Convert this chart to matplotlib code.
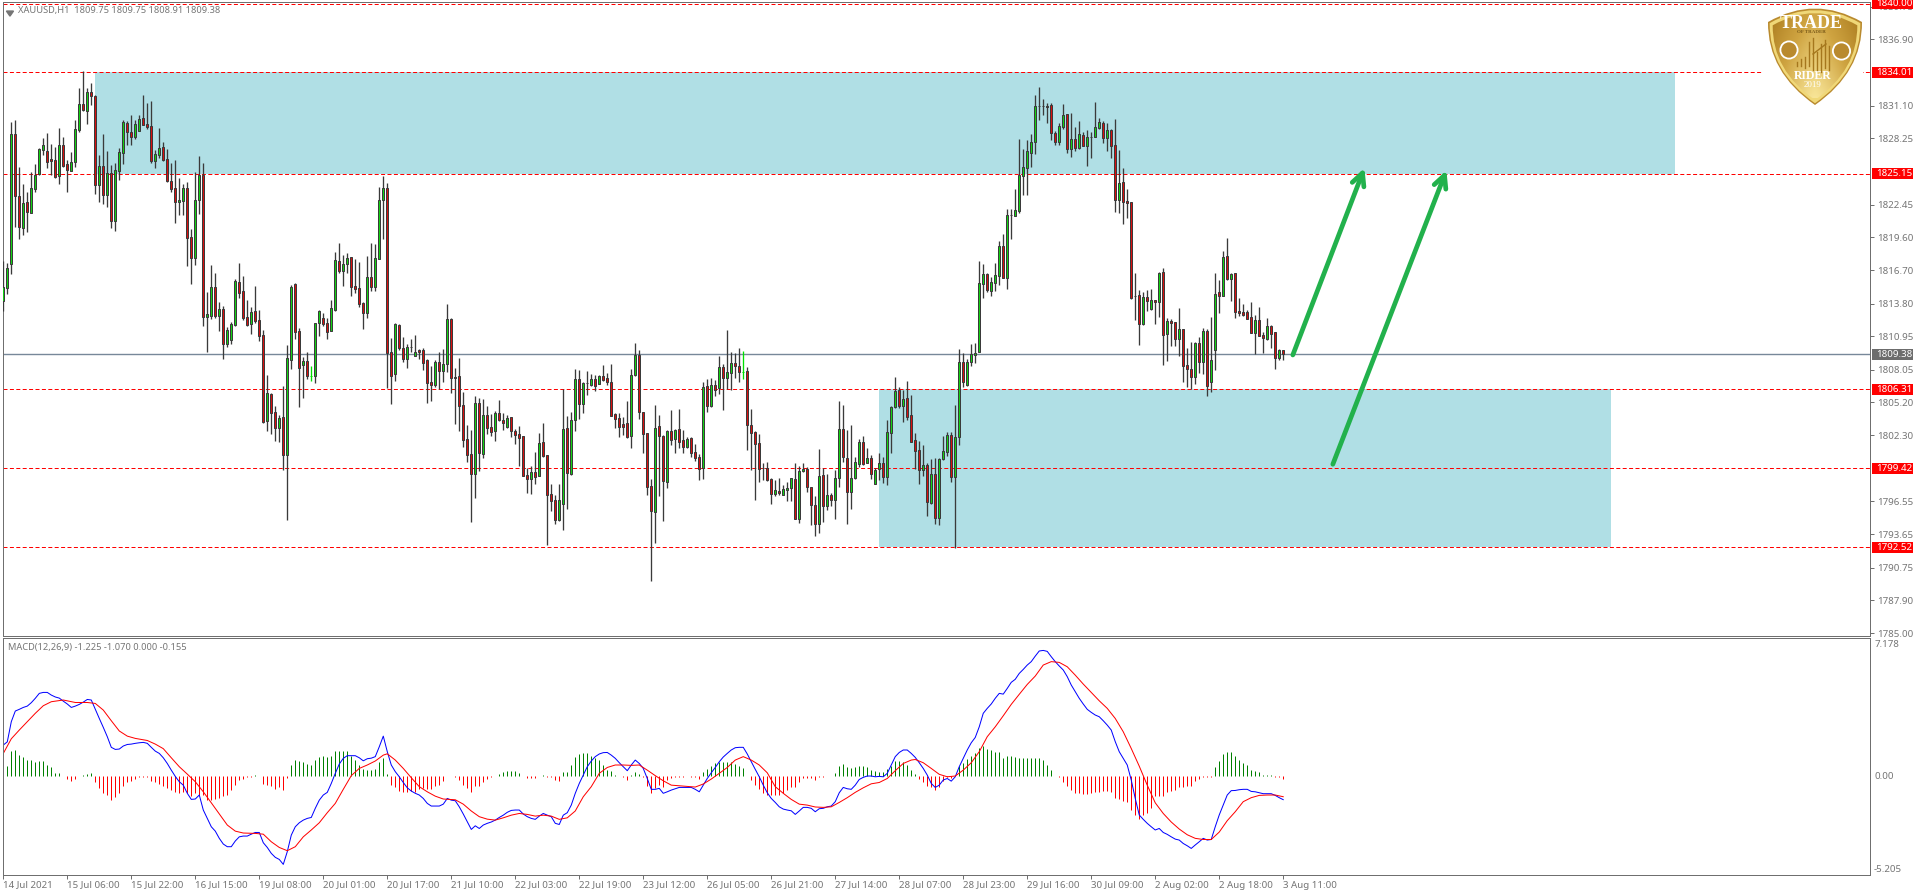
import numpy as np
import matplotlib
matplotlib.use('Agg')
import matplotlib.pyplot as plt
from matplotlib.colors import LinearSegmentedColormap
from matplotlib.patches import Circle, PathPatch, Rectangle
from matplotlib.path import Path
from matplotlib.transforms import blended_transform_factory

plt.rcParams['font.family'] = ['Noto Sans', 'DejaVu Sans']

# XAUUSD H1 candles
opens = [
    1814.06,1815.14,1817.24,1828.59,1823.17,1820.44,1822.68,1821.75,1823.84,1825.10,
    1827.22,1827.10,1826.43,1826.32,1824.98,1827.63,1826.0,1825.42,1826.20,1829.0,
    1831.21,1830.66,1832.26,1831.91,1824.16,1825.79,1823.29,1825.24,1821.05,1825.39,
    1826.99,1829.55,1828.76,1828.38,1828.91,1830.02,1829.46,1829.29,1826.29,1826.81,
    1827.45,1826.41,1824.48,1823.87,1822.65,1822.80,1823.87,1819.59,1817.82,1822.82,
    1825.01,1812.67,1812.72,1815.23,1812.72,1813.31,1810.31,1810.66,1811.94,1815.66,
    1814.88,1812.61,1812.0,1813.13,1812.35,1811.04,1803.58,1805.88,1804.31,1802.97,
    1803.87,1800.56,1808.91,1815.49,1811.38,1808.42,1808.76,1807.51,1807.51,1812.14,
    1812.52,1812.08,1811.44,1813.25,1817.53,1816.68,1817.27,1817.85,1815.32,1815.14,
    1813.83,1813.02,1816.10,1815.23,1817.67,1822.82,1823.87,1809.55,1807.63,1811.94,
    1809.90,1809.0,1809.99,1809.26,1809.73,1809.73,1808.85,1806.93,1806.73,1808.68,
    1807.95,1808.50,1812.43,1807.43,1807.45,1804.92,1801.95,1800.64,1798.95,1805.10,
    1800.64,1804.05,1803.0,1802.65,1804.22,1803.61,1803.03,1803.87,1802.65,1802.39,
    1802.21,1798.81,1798.52,1799.07,1798.78,1801.69,1800.55,1797.15,1796.62,1794.94,
    1796.33,1802.91,1798.95,1803.61,1807.19,1805.07,1806.84,1806.73,1807.19,1806.81,
    1807.45,1807.28,1806.93,1804.14,1803.82,1803.26,1803.35,1802.21,1807.54,1809.29,
    1804.31,1802.48,1797.85,1795.63,1803.09,1802.21,1798.26,1802.65,1801.95,1802.83,
    1801.86,1801.31,1802.04,1800.82,1800.38,1799.42,1806.58,1804.86,1806.67,1806.41,
    1808.24,1807.34,1807.72,1808.59,1808.36,1807.86,1807.89,1803.17,1802.59,1801.60,
    1799.42,1799.42,1798.46,1797.21,1797.41,1797.12,1797.53,1797.67,1798.46,1794.96,
    1799.16,1799.36,1797.82,1796.22,1794.59,1798.81,1796.16,1797.06,1796.68,1798.55,
    1802.83,1800.35,1797.38,1798.55,1799.83,1801.69,1799.91,1800.29,1798.05,1799.36,
    1799.86,1798.69,1802.53,1804.80,1806.26,1804.86,1805.53,1804.05,1801.86,1800.99,
    1799.30,1799.68,1796.42,1798.92,1795.11,1800.21,1800.87,1802.30,1798.69,1802.19,
    1808.68,1806.70,1808.74,1809.29,1809.61,1815.55,1816.36,1814.94,1815.61,1816.25,
    1818.81,1816.07,1821.57,1821.49,1821.92,1824.98,1825.68,1826.99,1827.95,1831.09,
    1831.03,1831.09,1831.12,1828.67,1827.95,1829.26,1830.33,1827.34,1828.15,1827.42,
    1828.50,1827.60,1828.33,1828.39,1829.17,1829.55,1828.30,1828.94,1827.63,1822.88,
    1824.40,1822.74,1822.65,1814.47,1814.53,1812.0,1814.35,1813.33,1814.09,1813.92,
    1816.54,1811.18,1812.26,1812.17,1810.69,1811.56,1808.42,1808.07,1807.42,1810.34,
    1808.74,1811.38,1806.99,1809.78,1814.79,1814.50,1817.93,1815.93,1816.45,1813.13,
    1813.04,1813.04,1812.61,1811.27,1812.35,1811.06,1810.69,1811.82,1811.30,1809.03,
    1809.75]
closes = [
    1815.23,1816.89,1828.59,1823.23,1820.53,1822.56,1821.81,1823.87,1825.04,1827.28,
    1827.63,1826.20,1826.26,1824.89,1827.63,1825.85,1825.47,1826.14,1829.03,1831.21,
    1830.71,1832.26,1831.94,1824.16,1825.79,1823.29,1825.24,1821.05,1825.44,1827.02,
    1829.64,1828.82,1828.38,1829.46,1829.90,1829.43,1829.23,1826.29,1826.84,1827.37,
    1826.38,1824.51,1823.84,1822.65,1822.82,1823.87,1819.56,1817.82,1822.82,1825.01,
    1812.67,1812.87,1815.23,1812.72,1813.31,1810.31,1811.47,1812.0,1815.78,1814.76,
    1812.58,1811.94,1813.04,1812.32,1811.01,1803.47,1805.97,1804.28,1802.97,1803.79,
    1800.61,1809.03,1815.23,1811.33,1808.21,1808.76,1807.48,1807.51,1812.08,1813.13,
    1812.05,1811.36,1813.39,1817.59,1816.68,1817.24,1817.76,1815.29,1815.11,1813.77,
    1813.02,1816.10,1815.23,1817.76,1822.82,1823.87,1809.52,1807.51,1812.0,1809.96,
    1809.0,1809.99,1809.99,1809.55,1809.58,1808.65,1806.90,1806.73,1808.68,1807.95,
    1808.50,1812.43,1807.34,1807.34,1804.89,1801.92,1800.61,1798.95,1805.10,1800.73,
    1804.11,1802.97,1802.62,1804.22,1803.61,1803.41,1803.79,1802.71,1802.30,1802.10,
    1798.78,1798.52,1799.07,1798.69,1801.66,1800.50,1797.12,1796.54,1794.94,1796.62,
    1802.83,1799.04,1803.61,1807.19,1805.07,1806.84,1806.84,1807.19,1806.64,1807.45,
    1807.16,1806.99,1804.02,1803.76,1803.0,1803.03,1802.18,1807.54,1809.29,1804.37,
    1802.45,1797.82,1795.72,1802.91,1802.21,1798.34,1802.65,1801.89,1802.74,1801.75,
    1801.28,1801.95,1800.79,1800.35,1799.33,1806.55,1804.86,1806.67,1806.29,1808.24,
    1807.34,1807.80,1808.59,1808.39,1807.86,1807.86,1803.23,1802.53,1801.52,1799.39,
    1799.42,1798.43,1797.21,1797.50,1797.27,1797.59,1797.67,1798.55,1795.02,1799.16,
    1799.33,1797.82,1796.25,1794.59,1798.72,1796.16,1797.06,1796.68,1798.55,1802.83,
    1800.44,1797.38,1798.55,1800.0,1801.69,1799.83,1800.29,1798.90,1799.27,1799.91,
    1798.69,1802.56,1804.80,1806.20,1804.86,1805.45,1803.93,1801.75,1800.96,1799.27,
    1799.68,1796.51,1798.92,1795.11,1800.21,1800.90,1802.30,1798.69,1802.13,1808.68,
    1806.99,1808.74,1809.38,1809.46,1815.58,1816.36,1814.99,1815.66,1816.27,1818.81,
    1816.07,1821.51,1821.57,1821.95,1825.01,1825.71,1827.10,1827.89,1831.03,1831.09,
    1831.03,1831.0,1828.73,1827.95,1829.29,1830.25,1827.34,1828.15,1827.42,1828.59,
    1827.60,1828.33,1828.33,1829.20,1829.64,1828.30,1828.94,1827.60,1822.82,1824.31,
    1822.71,1822.62,1814.32,1814.47,1812.0,1814.35,1814.06,1814.09,1813.92,1816.48,
    1811.09,1812.26,1812.08,1810.69,1811.56,1808.33,1808.07,1807.42,1810.34,1808.74,
    1811.38,1806.64,1808.85,1814.62,1814.50,1817.85,1815.93,1816.36,1813.10,1813.02,
    1812.84,1812.49,1811.27,1812.35,1811.01,1810.83,1811.82,1811.18,1809.03,1809.72,
    1809.38]
highs = [
    1817.53,1817.32,1829.64,1829.84,1825.71,1824.25,1823.58,1825.33,1826.0,1827.37,
    1828.24,1828.68,1827.72,1827.51,1829.11,1828.38,1826.35,1827.07,1829.84,1832.61,
    1834.12,1832.61,1833.04,1832.02,1826.78,1828.59,1827.13,1825.91,1826.06,1827.37,
    1829.84,1829.78,1830.28,1829.84,1830.28,1832.02,1831.30,1831.50,1827.22,1829.11,
    1827.95,1827.31,1826.06,1826.35,1824.80,1824.22,1824.40,1820.29,1825.33,1826.70,
    1826.06,1814.79,1817.15,1816.45,1813.97,1813.60,1811.73,1812.23,1815.93,1817.32,
    1816.22,1814.12,1813.54,1815.34,1813.25,1811.50,1807.57,1805.97,1804.86,1804.08,
    1806.61,1810.19,1815.43,1815.58,1811.65,1809.11,1809.58,1808.36,1812.08,1813.25,
    1812.96,1812.52,1814.12,1818.31,1819.07,1818.05,1818.20,1817.91,1817.67,1817.47,
    1813.97,1817.96,1819.07,1819.01,1824.02,1824.95,1824.31,1810.80,1812.08,1812.03,
    1810.89,1810.25,1810.71,1811.06,1809.87,1809.90,1808.94,1808.36,1808.85,1809.61,
    1809.84,1813.77,1812.52,1808.15,1809.03,1806.06,1803.18,1802.74,1805.74,1805.53,
    1805.45,1804.86,1804.14,1804.46,1805.39,1804.28,1804.08,1803.93,1802.83,1803.12,
    1802.24,1799.42,1799.62,1800.85,1802.48,1803.35,1800.58,1798.05,1797.09,1798.05,
    1806.32,1803.99,1804.37,1808.07,1808.01,1806.96,1807.92,1807.66,1807.57,1807.57,
    1808.44,1807.72,1808.53,1804.28,1804.22,1803.93,1805.30,1808.07,1810.34,1809.75,
    1804.37,1802.48,1798.46,1804.95,1804.05,1802.33,1802.77,1804.51,1802.83,1804.60,
    1802.77,1802.18,1802.18,1801.54,1800.67,1806.93,1807.22,1807.28,1807.13,1809.23,
    1808.50,1811.50,1809.61,1809.46,1809.90,1809.67,1808.24,1804.60,1802.71,1802.39,
    1799.86,1799.94,1798.55,1798.40,1798.55,1797.96,1798.26,1798.55,1799.86,1799.62,
    1799.86,1799.56,1797.82,1797.03,1801.08,1799.48,1798.92,1797.29,1799.27,1805.30,
    1804.95,1802.77,1803.20,1800.44,1801.95,1802.24,1801.17,1800.58,1799.42,1800.79,
    1800.44,1803.64,1804.86,1807.37,1806.49,1806.26,1807.05,1805.79,1802.48,1801.81,
    1801.46,1799.91,1800.21,1800.29,1800.32,1802.24,1802.59,1802.62,1804.95,1809.81,
    1809.46,1808.97,1810.25,1810.34,1817.53,1817.26,1816.45,1816.16,1817.32,1819.27,
    1819.88,1822.07,1822.07,1823.81,1828.18,1827.31,1828.09,1828.62,1832.02,1832.69,
    1831.67,1831.35,1831.30,1828.88,1829.55,1831.24,1830.36,1830.42,1829.20,1829.75,
    1828.76,1828.97,1828.82,1831.41,1830.04,1829.75,1829.55,1829.05,1829.90,1827.22,
    1825.68,1823.81,1822.71,1816.45,1814.99,1814.85,1814.99,1815.11,1814.12,1816.59,
    1816.89,1812.52,1812.43,1812.23,1813.42,1811.62,1809.90,1810.48,1810.42,1810.86,
    1811.70,1811.59,1812.64,1816.45,1815.87,1818.40,1819.51,1816.45,1816.51,1814.27,
    1813.77,1813.25,1813.92,1812.81,1813.48,1811.36,1812.52,1811.94,1811.36,1809.81,
    1809.75]
lows = [
    1813.19,1814.65,1816.39,1820.53,1819.48,1819.80,1820.09,1821.69,1823.58,1825.04,
    1826.78,1825.62,1825.04,1824.75,1824.25,1825.76,1823.58,1825.36,1825.76,1828.82,
    1830.66,1829.49,1831.15,1823.38,1822.71,1822.50,1822.27,1820.38,1820.18,1824.60,
    1826.0,1827.66,1827.66,1828.15,1828.91,1829.40,1829.05,1826.06,1825.68,1826.49,
    1826.26,1824.46,1823.58,1820.87,1821.54,1821.54,1817.12,1815.52,1817.18,1821.63,
    1811.85,1809.61,1812.49,1812.58,1811.41,1808.97,1810.05,1810.31,1811.85,1814.27,
    1812.37,1811.85,1811.15,1812.08,1810.54,1803.41,1802.71,1802.42,1801.84,1801.75,
    1799.27,1794.91,1808.10,1810.72,1804.78,1805.59,1807.25,1807.05,1806.90,1810.98,
    1811.88,1810.72,1811.41,1813.19,1816.51,1815.34,1816.45,1814.47,1814.70,1813.51,
    1811.59,1812.58,1814.94,1814.94,1817.67,1819.48,1806.44,1805.04,1807.08,1809.75,
    1808.68,1808.21,1809.61,1809.23,1809.0,1808.01,1805.16,1805.30,1806.55,1806.32,
    1806.99,1807.86,1806.03,1803.29,1802.71,1801.31,1800.0,1794.76,1796.86,1799.22,
    1800.35,1802.42,1802.24,1801.81,1803.58,1802.77,1802.91,1802.18,1801.54,1799.62,
    1798.75,1797.29,1797.18,1798.05,1798.75,1800.38,1792.72,1795.72,1794.56,1794.82,
    1794.03,1795.84,1798.84,1802.68,1803.70,1804.28,1805.82,1806.61,1806.17,1806.78,
    1807.05,1806.70,1804.02,1802.91,1802.18,1802.33,1802.04,1801.17,1807.48,1803.73,
    1800.79,1797.09,1789.61,1792.93,1797.03,1794.85,1797.73,1801.46,1800.79,1801.17,
    1800.79,1801.17,1800.44,1800.06,1798.40,1798.49,1804.37,1804.80,1805.74,1805.88,
    1804.51,1806.32,1806.26,1807.28,1806.99,1807.19,1801.02,1799.27,1796.65,1798.23,
    1798.40,1798.31,1796.30,1797.03,1797.09,1797.09,1796.57,1796.60,1794.99,1794.67,
    1799.13,1797.38,1794.47,1793.54,1793.80,1794.76,1795.78,1796.13,1794.99,1797.82,
    1800.0,1794.59,1795.87,1798.46,1799.56,1799.71,1799.86,1798.46,1798.02,1798.40,
    1798.17,1797.96,1800.79,1804.66,1804.66,1803.49,1803.64,1801.75,1799.33,1798.05,
    1798.78,1795.26,1796.30,1794.56,1794.47,1800.15,1800.50,1798.25,1792.49,1801.46,
    1806.55,1806.61,1808.36,1808.59,1809.61,1814.32,1814.79,1814.47,1814.94,1815.43,
    1816.01,1815.08,1819.45,1821.49,1821.75,1823.29,1823.29,1825.71,1826.87,1829.84,
    1830.28,1829.61,1828.09,1827.66,1827.66,1829.05,1826.93,1826.64,1827.16,1827.28,
    1827.57,1825.82,1826.55,1828.33,1829.03,1827.80,1827.13,1826.55,1821.83,1821.75,
    1820.79,1821.31,1814.21,1812.37,1810.22,1811.94,1813.19,1813.25,1812.03,1812.67,
    1808.47,1808.82,1810.13,1810.10,1809.26,1806.99,1806.55,1806.32,1806.79,1807.72,
    1807.63,1805.77,1806.12,1808.01,1813.0,1814.47,1815.87,1814.03,1812.58,1812.75,
    1812.72,1812.43,1811.21,1809.41,1810.98,1809.52,1810.63,1809.96,1808.12,1808.91,
    1808.91]
# the two bright doji bars
lime_bars = [77, 185]

# MACD panel
macd_line = [
    1.65,1.82,2.88,3.44,3.53,3.63,3.70,3.88,4.11,4.37,
    4.42,4.42,4.28,4.18,4.12,3.96,3.81,3.63,3.70,3.79,
    3.91,4.05,4.02,3.53,3.05,2.58,2.09,1.53,1.42,1.44,
    1.60,1.68,1.70,1.74,1.77,1.79,1.74,1.53,1.33,1.21,
    0.98,0.68,0.33,0.0,-0.28,-0.46,-0.89,-1.21,-1.19,-0.98,
    -1.77,-2.21,-2.65,-2.88,-3.26,-3.56,-3.70,-3.70,-3.40,-3.18,
    -3.14,-3.14,-3.04,-2.95,-2.95,-3.49,-3.74,-4.05,-4.26,-4.37,
    -4.63,-3.96,-3.09,-2.65,-2.44,-2.30,-2.21,-2.16,-1.68,-1.25,
    -0.98,-0.84,-0.37,0.16,0.65,0.95,1.09,1.09,1.09,0.98,
    0.82,0.93,0.96,1.04,1.56,2.12,1.30,0.60,0.25,-0.02,
    -0.32,-0.60,-0.77,-0.89,-0.98,-1.16,-1.42,-1.56,-1.56,-1.56,
    -1.46,-1.16,-1.25,-1.28,-1.60,-1.98,-2.39,-2.79,-2.60,-2.74,
    -2.56,-2.47,-2.40,-2.30,-2.16,-2.04,-1.89,-1.79,-1.77,-1.77,
    -1.98,-2.12,-2.21,-2.26,-2.09,-1.95,-2.04,-2.12,-2.47,-2.53,
    -2.04,-1.91,-1.51,-0.89,-0.37,0.07,0.51,0.81,1.04,1.18,
    1.25,1.26,1.12,0.95,0.72,0.51,0.30,0.60,0.86,0.68,
    0.42,-0.11,-0.68,-0.68,-0.63,-0.89,-0.81,-0.72,-0.65,-0.58,
    -0.58,-0.58,-0.58,-0.68,-0.81,-0.46,-0.11,0.19,0.47,0.77,
    1.02,1.21,1.39,1.51,1.53,1.53,1.18,0.77,0.37,-0.02,
    -0.46,-0.86,-1.16,-1.37,-1.60,-1.72,-1.77,-1.81,-2.00,-1.82,
    -1.63,-1.63,-1.68,-1.86,-1.70,-1.68,-1.60,-1.56,-1.33,-0.86,
    -0.58,-0.65,-0.68,-0.46,-0.16,-0.05,0.02,0.02,-0.02,0.0,
    -0.02,0.16,0.60,1.04,1.26,1.39,1.39,1.21,1.00,0.72,
    0.42,0.07,-0.37,-0.58,-0.46,-0.19,-0.11,-0.25,-0.02,0.51,
    0.95,1.39,1.77,2.05,2.61,3.32,3.58,3.81,4.11,4.37,
    4.33,4.63,4.95,5.11,5.42,5.63,5.86,6.04,6.33,6.60,
    6.63,6.58,6.30,6.04,5.81,5.60,5.25,4.81,4.46,4.11,
    3.81,3.53,3.37,3.23,3.14,2.93,2.70,2.44,1.83,1.30,
    0.95,0.60,-0.19,-1.16,-2.03,-2.26,-2.47,-2.65,-2.82,-2.74,
    -2.95,-3.05,-3.18,-3.30,-3.35,-3.53,-3.65,-3.79,-3.61,-3.44,
    -3.26,-3.35,-3.32,-2.65,-2.03,-1.51,-0.98,-0.75,-0.74,-0.70,
    -0.68,-0.68,-0.79,-0.81,-0.86,-0.91,-0.91,-0.91,-1.00,-1.12,
    -1.225]
signal_bars = [
    0,2,4,6,8,10,12,15,18,21,23,25,27,29,31,33,36,38,40,42,44,46,48,50,52,54,56,58,60,63,
    65,67,69,71,73,75,77,79,81,83,85,87,89,91,93,95,96,98,100,102,104,106,108,110,113,115,
    117,119,121,123,125,127,129,131,133,135,137,139,141,143,145,147,149,151,153,155,157,
    159,161,163,165,167,170,173,175,177,179,181,183,185,187,189,191,193,195,197,199,201,
    203,205,207,209,211,213,215,217,219,221,223,225,227,228,230,232,234,236,238,240,242,
    244,246,248,250,252,254,256,258,260,262,264,266,268,270,272,274,276,278,280,282,284,
    286,288,290,292,294,296,298,300,302,304,306,308,310,312,314,316,318,320]
signal_line = [
    1.21,1.98,2.44,2.88,3.32,3.72,3.93,4.02,3.89,3.89,3.84,3.49,2.93,2.39,2.12,2.00,1.89,
    1.70,1.46,0.98,0.51,0.12,-0.28,-0.81,-1.39,-1.98,-2.56,-2.88,-2.98,-3.00,-3.04,-3.44,
    -3.74,-3.91,-3.70,-3.18,-2.82,-2.44,-1.91,-1.42,-0.68,0.04,0.42,0.60,0.81,1.12,1.19,
    0.86,0.42,-0.07,-0.54,-0.81,-1.04,-1.19,-1.23,-1.46,-1.82,-2.12,-2.25,-2.30,-2.18,
    -2.04,-1.95,-2.00,-2.09,-2.04,-2.09,-2.26,-2.18,-1.82,-1.07,-0.54,0.16,0.47,0.60,0.60,
    0.58,0.60,0.33,0.04,-0.23,-0.46,-0.51,-0.56,-0.40,-0.14,0.16,0.47,0.86,1.04,0.86,0.60,
    0.19,-0.54,-0.89,-1.21,-1.46,-1.51,-1.61,-1.63,-1.60,-1.37,-1.12,-0.84,-0.60,-0.39,
    -0.32,-0.11,0.30,0.68,0.86,0.89,0.72,0.42,0.11,-0.02,0.02,0.33,0.72,1.30,2.09,2.61,
    3.19,3.79,4.32,4.84,5.28,5.86,6.04,6.00,5.77,5.33,4.86,4.42,3.98,3.58,3.05,2.35,1.47,
    0.54,-0.46,-1.39,-1.95,-2.40,-2.77,-3.07,-3.26,-3.32,-3.32,-2.93,-2.33,-1.86,-1.33,
    -1.12,-1.00,-0.98,-0.98,-1.07]
macd_hist = [
    0.47,0.56,1.32,1.40,1.14,1.0,0.88,0.84,0.77,0.79,
    0.82,0.61,0.47,0.18,0.19,0,-0.12,-0.23,-0.12,0,
    0.05,0.14,0.16,-0.32,-0.61,-0.88,-1.0,-1.23,-1.1,-0.88,
    -0.53,-0.32,-0.26,-0.12,-0.05,-0.02,-0.03,-0.26,-0.32,-0.39,
    -0.49,-0.61,-0.7,-0.84,-0.88,-0.84,-0.88,-1.05,-0.88,-0.96,
    -1.0,-1.23,-1.23,-1.19,-1.14,-1.05,-1.0,-0.7,-0.44,-0.18,
    -0.12,-0.05,-0.02,0.05,0.04,-0.40,-0.44,-0.53,-0.65,-0.56,
    -0.7,-0.09,0.61,0.86,0.82,0.74,0.65,0.61,0.88,1.04,
    1.09,1.0,1.09,1.32,1.35,1.35,1.32,1.09,0.88,0.61,
    0.39,0.35,0.32,0.39,0.74,0.96,0.14,-0.44,-0.56,-0.75,
    -0.84,-0.84,-0.79,-0.82,-0.65,-0.61,-0.65,-0.65,-0.53,-0.44,
    -0.26,0.04,0.04,-0.02,-0.21,-0.47,-0.61,-0.84,-0.53,-0.53,
    -0.3,-0.12,-0.05,0.04,0.14,0.23,0.3,0.26,0.26,0.18,
    0,-0.09,-0.09,-0.09,0.04,0.07,-0.02,-0.02,-0.21,-0.26,
    0.21,0.23,0.61,1.04,1.19,1.23,1.23,1.09,0.96,0.84,
    0.58,0.35,0.26,0.05,0.04,-0.03,-0.21,0.05,0.23,0.12,
    -0.02,-0.53,-0.88,-0.61,-0.44,-0.56,-0.2,-0.09,-0.02,-0.02,
    -0.02,0,-0.02,-0.05,-0.12,0.23,0.39,0.56,0.7,0.77,
    0.77,0.74,0.75,0.67,0.56,0.44,0.04,-0.18,-0.44,-0.67,
    -0.88,-0.96,-1.0,-1.0,-0.96,-0.88,-0.7,-0.58,-0.58,-0.32,
    -0.09,-0.09,-0.09,-0.21,-0.02,-0.02,0,0,0.18,0.56,
    0.67,0.47,0.44,0.49,0.56,0.53,0.49,0.35,0.28,0.25,
    0.21,0.39,0.53,0.79,0.79,0.75,0.61,0.35,0.14,-0.12,
    -0.3,-0.53,-0.56,-0.74,-0.56,-0.26,-0.05,-0.09,0,0.53,
    0.7,0.91,1.05,1.23,1.49,1.58,1.44,1.4,1.26,1.26,
    0.96,1.09,1.05,1.02,0.98,0.98,0.98,0.96,0.95,0.96,
    0.84,0.61,0.32,0.01,-0.02,-0.3,-0.49,-0.7,-0.88,-0.88,
    -0.93,-0.91,-0.88,-0.84,-0.82,-0.77,-0.75,-0.82,-1.14,-1.18,
    -1.32,-1.35,-1.75,-2.02,-2.23,-2.02,-1.93,-1.67,-1.05,-1.05,
    -1.05,-0.84,-0.77,-0.7,-0.58,-0.58,-0.53,-0.53,-0.26,-0.12,
    -0.02,-0.02,-0.02,0.49,0.82,1.19,1.26,1.30,1.05,0.84,
    0.7,0.58,0.35,0.28,0.21,0.09,0.09,0.09,-0.03,-0.05,
    -0.155]

# Axis labels
price_ticks = [1839.75,1836.90,1831.10,1828.25,1822.45,1819.60,1816.70,1813.80,1810.95,
               1808.05,1805.20,1802.30,1796.55,1793.65,1790.75,1787.90,1785.00]
red_levels = [1840.00,1834.01,1825.15,1806.31,1799.42,1792.52]
last_price = 1809.38
time_labels = ['14 Jul 2021','15 Jul 06:00','15 Jul 22:00','16 Jul 15:00','19 Jul 08:00',
               '20 Jul 01:00','20 Jul 17:00','21 Jul 10:00','22 Jul 03:00','22 Jul 19:00',
               '23 Jul 12:00','26 Jul 05:00','26 Jul 21:00','27 Jul 14:00','28 Jul 07:00',
               '28 Jul 23:00','29 Jul 16:00','30 Jul 09:00','2 Aug 02:00','2 Aug 18:00',
               '3 Aug 11:00']
time_step = 16

# Drawn objects, in bars and prices: (first bar, last bar, low price, high price)
supply_zone = (22.9, 417.9, 1825.15, 1834.01)
demand_zone = (218.9, 401.9, 1792.52, 1806.31)
# (bar, price) to (bar, price)
arrows = [((322.4, 1809.32), (340.3, 1825.65)),
          ((332.4, 1799.77), (360.8, 1825.45))]

WIDTH, HEIGHT = 1916, 896
GREY = '#6f6f6f'
TEXT = '#757575'
WICK = '#3a3a3a'


# Returns an axes box from pixel edges of the picture
def pixel_axes(fig, left, top, right, bottom):
    return fig.add_axes([left / WIDTH, 1 - bottom / HEIGHT,
                         (right - left) / WIDTH, (bottom - top) / HEIGHT])


def style_axes(ax):
    ax.set_xlim(-0.2, 466.7)
    ax.set_facecolor('white')
    for spine in ax.spines.values():
        spine.set_color(GREY)
        spine.set_linewidth(0.72)


def plot_candles(ax):
    bars = np.arange(len(opens))
    o, c = np.array(opens), np.array(closes)
    h, l = np.array(highs), np.array(lows)
    wick_colors = [('#00e000' if i in lime_bars else WICK) for i in bars]
    ax.vlines(bars, l, h, colors=wick_colors, linewidth=0.95, zorder=4)
    body_colors = ['#14d314' if c[i] >= o[i] else '#d81010' for i in bars]
    edge_colors = ['#00e000' if i in lime_bars else WICK for i in bars]
    ax.bar(bars, np.abs(c - o), bottom=np.minimum(o, c), width=0.5, color=body_colors,
           edgecolor=edge_colors, linewidth=0.72, zorder=5)


def plot_price_panel(ax):
    style_axes(ax)
    ax.set_ylim(1784.77, 1840.11)
    for left, right, low, high in (supply_zone, demand_zone):
        ax.add_patch(Rectangle((left, low), right - left, high - low,
                               facecolor='#b0dfe5', edgecolor='none', zorder=1))
    for level in red_levels:
        ax.axhline(level, color='#ff0000', linewidth=0.72, linestyle=(0, (4, 2.4)), zorder=2)
    ax.axhline(last_price, color='#778899', linewidth=1.0, zorder=2)
    plot_candles(ax)
    for start, end in arrows:
        ax.annotate('', xy=end, xytext=start, zorder=6,
                    arrowprops=dict(arrowstyle='->,head_length=0.9,head_width=0.45',
                                    color='#22b14c', linewidth=3.4, shrinkA=0, shrinkB=0,
                                    mutation_scale=10))
    ax.yaxis.tick_right()
    ax.set_yticks(price_ticks)
    ax.set_yticklabels([f'{p:.2f}' for p in price_ticks])
    ax.tick_params(axis='y', length=3, width=0.72, color=GREY, labelcolor=TEXT,
                   labelsize=7, pad=2)
    ax.set_xticks([])

    # Value flags on the price scale, over the tick labels
    flag = blended_transform_factory(ax.transAxes, ax.transData)
    for level, color in [(p, '#ff0000') for p in red_levels] + [(last_price, '#6c6c6c')]:
        ax.add_patch(Rectangle((1.0011, level - 0.46), 0.022, 0.92, transform=flag,
                               facecolor=color, edgecolor='none', clip_on=False, zorder=8))
        ax.text(1.0032, level, f'{level:.2f}', transform=flag, color='white', fontsize=7,
                va='center', ha='left', clip_on=False, zorder=9)
    # small triangle in front of the symbol name
    ax.fill([0.0021, 0.0059, 0.004], [0.9865, 0.9865, 0.9785], color=TEXT,
            transform=ax.transAxes, zorder=9)


def plot_macd_panel(ax):
    style_axes(ax)
    ax.set_ylim(-5.189, 7.268)
    bars = np.arange(len(macd_hist))
    hist = np.array(macd_hist)
    colors = ['#008000' if v > 0 else '#ff0000' for v in hist]
    ax.vlines(bars[hist != 0], 0, hist[hist != 0],
              colors=[c for c, v in zip(colors, hist) if v != 0], linewidth=0.72)
    ax.plot(bars, macd_line, color='#0000ff', linewidth=0.72)
    ax.plot(signal_bars, signal_line, color='#ff0000', linewidth=0.72)

    ax.set_xticks(np.arange(len(time_labels)) * time_step)
    ax.set_xticklabels(time_labels, ha='left')
    ax.tick_params(axis='x', length=3, width=0.72, color=GREY, labelcolor=TEXT,
                   labelsize=7, pad=1)
    ax.set_yticks([])
    side = blended_transform_factory(ax.transAxes, ax.transData)
    ax.text(1.0022, 0, '0.00', transform=side, color=TEXT, fontsize=7, va='center')
    ax.text(1.0022, 0.992, '7.178', transform=ax.transAxes, color=TEXT, fontsize=7, va='top')
    ax.text(1.0022, 0.004, '-5.205', transform=ax.transAxes, color=TEXT, fontsize=7,
            va='bottom')


# Trade Rider badge in the top right corner, drawn in picture pixels
def plot_badge(fig):
    ax = fig.add_axes([0, 0, 1, 1], zorder=10)
    ax.set_xlim(0, WIDTH)
    ax.set_ylim(HEIGHT, 0)
    ax.axis('off')
    ax.patch.set_alpha(0)
    ax.add_patch(Rectangle((1762, 8), 101, 100, facecolor='white', edgecolor='none'))

    def shield(scale):
        cx, cy = 1815, 55
        pts = np.array([(1768, 22), (1815, -5), (1862, 22), (1862.5, 72), (1815, 105),
                         (1767.5, 72), (1768, 22), (1768, 22)], dtype=float)
        pts = (pts - (cx, cy)) * scale + (cx, cy)
        codes = [Path.MOVETO, Path.CURVE3, Path.CURVE3, Path.CURVE3, Path.CURVE3,
                 Path.CURVE3, Path.CURVE3, Path.CLOSEPOLY]
        return Path(pts, codes)

    ax.add_patch(PathPatch(shield(1.0), facecolor='#b98a2e', edgecolor='none'))
    ax.add_patch(PathPatch(shield(0.965), facecolor='#f0d878', edgecolor='none'))
    cmap = LinearSegmentedColormap.from_list('gold', ['#ab7c20', '#cfa441', '#f8e597'])
    gx, gy = np.meshgrid(np.linspace(-1, 1, 120), np.linspace(0, 1, 120))
    shade = (1 - np.abs(gx) ** 1.3) * 0.55 + 0.55 * gy
    img = ax.imshow(shade, cmap=cmap, extent=(1772, 1858, 98, 12), aspect='auto',
                    interpolation='bilinear', zorder=2)
    clip = PathPatch(shield(0.9), transform=ax.transData, facecolor='none', edgecolor='none')
    ax.add_patch(clip)
    img.set_clip_path(clip)
    ax.set_xlim(0, WIDTH)
    ax.set_ylim(HEIGHT, 0)

    serif = 'Liberation Serif'
    ax.text(1811.5, 24, 'TRADE', family=serif, weight='bold', color='white', fontsize=13,
            ha='center', va='center', zorder=4)
    ax.text(1811.5, 31.7, 'OF TRADER', family=serif, weight='bold', color='#7a5a18',
            fontsize=3.6, ha='center', va='center', zorder=4)
    ax.text(1813, 76, 'RIDER', family=serif, weight='bold', color='white', fontsize=8.5,
            ha='center', va='center', zorder=4)
    ax.text(1813, 85, '2019', family=serif, color='white', fontsize=6.5,
            ha='center', va='center', zorder=4)
    for cx, cy in [(1789, 50), (1841.5, 51)]:
        ax.add_patch(Circle((cx, cy), 8.6, facecolor='#b98a2e', edgecolor='white',
                            linewidth=1.3, zorder=4))
    # small candle mark between the circles
    marks = [(1797, 62, 66), (1801, 59, 66), (1805, 57, 68), (1809, 42, 66), (1813, 38, 70),
             (1817, 52, 70), (1821, 44, 72), (1825, 40, 68), (1829, 46, 70)]
    for x, top, bottom in marks:
        ax.plot([x, x], [top, bottom], color='#a5771d', linewidth=1.0, zorder=4)
    ax.plot([1813, 1826], [54, 44], color='#a5771d', linewidth=1.0, zorder=4)


def main():
    fig = plt.figure(figsize=(WIDTH / 100, HEIGHT / 100), dpi=100, facecolor='white')
    ax_price = pixel_axes(fig, 2.5, 2.5, 1870, 636)
    ax_macd = pixel_axes(fig, 2.5, 638.3, 1870, 875)
    plot_price_panel(ax_price)
    plot_macd_panel(ax_macd)

    # Header lines
    fig.text(17.7 / WIDTH, 1 - 10.7 / HEIGHT, 'XAUUSD,H1  1809.75 1809.75 1808.91 1809.38',
             color=TEXT, fontsize=6.7, va='center')
    fig.text(7.5 / WIDTH, 1 - 647.5 / HEIGHT, 'MACD(12,26,9) -1.225 -1.070 0.000 -0.155',
             color=TEXT, fontsize=6.7, va='center')

    plot_badge(fig)
    fig.savefig('out.png', dpi=100, facecolor='white')


main()
